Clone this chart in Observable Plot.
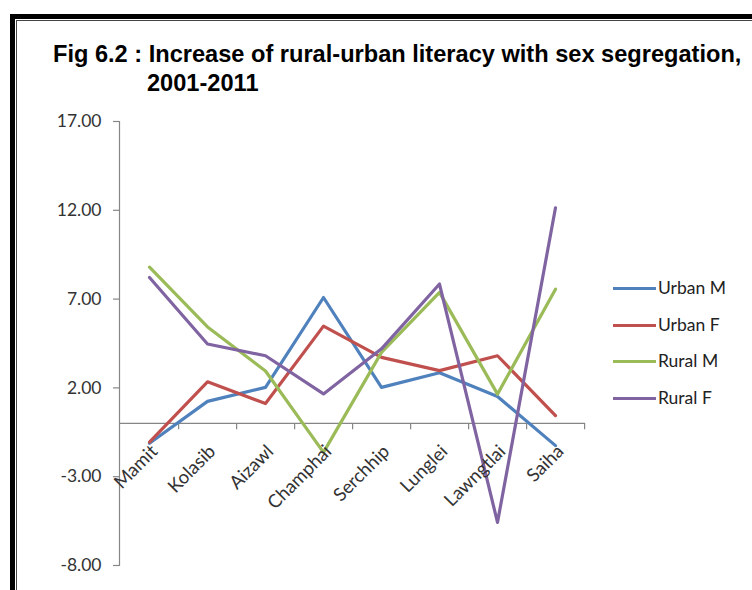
<!DOCTYPE html>
<html>
<head>
<meta charset="utf-8">
<script src="https://cdn.jsdelivr.net/npm/d3@7"></script>
<script src="https://cdn.jsdelivr.net/npm/@observablehq/plot@0.6"></script>
<style>
  html, body { margin: 0; padding: 0; background: #fff; }
  #wrap { position: relative; width: 752px; height: 590px; overflow: hidden; background: #fff; }
  .frame1 { position: absolute; left: 10px; top: 14px; width: 900px; height: 800px; border: 5px solid #000; box-sizing: border-box; }
  .frame2 { position: absolute; left: 16px; top: 20px; width: 900px; height: 800px; border: 1.5px solid #444; box-sizing: border-box; }
  .title { position: absolute; font-family: "Liberation Sans", Arial, sans-serif; font-weight: bold; font-size: 23.6px; line-height: 23.6px; color: #000; white-space: nowrap; }
  #chart { position: absolute; left: 0; top: 0; }
  .leg { position: absolute; font-family: Lato, "Open Sans", sans-serif; font-size: 17.5px; color: #222; white-space: nowrap; line-height: 20px; }
  .leg span.sw { position: absolute; left: 0; top: 9px; width: 43px; height: 3px; }
  .leg span.tx { position: absolute; left: 45px; top: 0; }
</style>
</head>
<body>
<div id="wrap">
  <div class="frame1"></div>
  <div class="frame2"></div>
  <div id="chart"></div>
  <div class="title" style="left:53px; top:43px;">Fig 6.2 : Increase of rural-urban literacy with sex segregation,</div>
  <div class="title" style="left:147px; top:72px;">2001-2011</div>
  <div id="legend"></div>
</div>
<script>
const districts = ["Mamit", "Kolasib", "Aizawl", "Champhai", "Serchhip", "Lunglei", "Lawngtlai", "Saiha"];
const seriesNames = ["Urban M", "Urban F", "Rural M", "Rural F"];
const seriesColors = ["#4f81bd", "#c0504d", "#9bbb59", "#8064a2"];
const urbanM = [-1.12, 1.24, 2.03, 7.09, 2.03, 2.85, 1.52, -1.25];
const urbanF = [-1.05, 2.34, 1.12, 5.48, 3.72, 2.97, 3.81, 0.44];
const ruralM = [8.80, 5.43, 2.95, -1.63, 4.00, 7.38, 1.65, 7.56];
const ruralF = [8.22, 4.47, 3.81, 1.66, 4.20, 7.85, -5.57, 12.14];
const yTicks = [-8, -3, 2, 7, 12, 17];

const seriesValues = [urbanM, urbanF, ruralM, ruralF];
const rows = [];
seriesNames.forEach((s, si) => {
  districts.forEach((d, di) => rows.push({series: s, district: d, value: seriesValues[si][di]}));
});

const W = 752, H = 590, ML = 119, MR = 167, MT = 121, MB = 25;
const half = (W - ML - MR) / districts.length / 2;
const font = "Lato, 'Open Sans', sans-serif";

const chart = Plot.plot({
  width: W,
  height: H,
  marginLeft: ML,
  marginRight: MR,
  marginTop: MT,
  marginBottom: MB,
  style: {background: "transparent", fontFamily: font, fontSize: "17px", color: "#333"},
  x: {type: "point", domain: districts, padding: 0.5, axis: null},
  y: {domain: [-8, 17], axis: null},
  color: {domain: seriesNames, range: seriesColors},
  marks: [
    Plot.frame({anchor: "left", stroke: "#868686", strokeWidth: 1.2}),
    Plot.axisY({ticks: yTicks, tickFormat: d => d.toFixed(2), tickSize: 6, tickPadding: 12, label: null,
      stroke: "#868686", strokeWidth: 1.2, fill: "#333", fontSize: 17.5}),
    Plot.ruleY([0], {stroke: "#868686", strokeWidth: 1.2}),
    Plot.ruleX(districts, {x: d => d, dx: half, y1: 0, y2: -0.35, stroke: "#868686", strokeWidth: 1.2}),
    Plot.lineY(rows, {x: "district", y: "value", z: "series", stroke: "series", strokeWidth: 3.2}),
    Plot.text(districts, {x: d => d, y: 0, text: d => d, rotate: -45, textAnchor: "end",
      lineAnchor: "middle", dx: 5, dy: 25, fill: "#333", fontSize: 18.5})
  ]
});
document.getElementById("chart").appendChild(chart);

const legend = document.getElementById("legend");
seriesNames.forEach((s, i) => {
  const el = document.createElement("div");
  el.className = "leg";
  el.style.left = "613px";
  el.style.top = (278 + i * 36.5) + "px";
  el.innerHTML = `<span class="sw" style="background:${seriesColors[i]}"></span><span class="tx">${s}</span>`;
  legend.appendChild(el);
});
</script>
</body>
</html>
